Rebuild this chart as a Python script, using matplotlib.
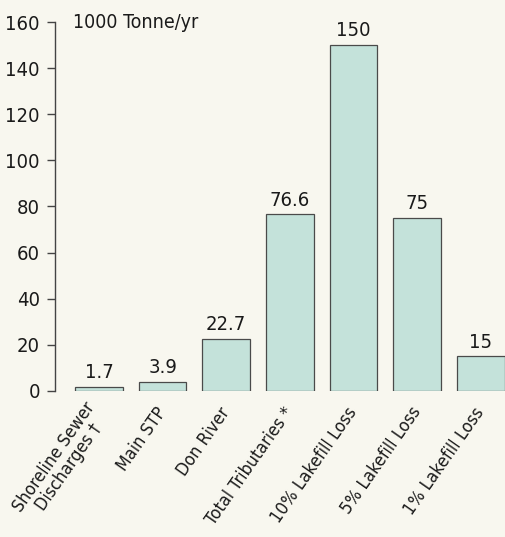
import matplotlib.pyplot as plt

categories = ["Shoreline Sewer\nDischarges \u2020", "Main STP", "Don River",
              "Total Tributaries *", "10% Lakefill Loss", "5% Lakefill Loss",
              "1% Lakefill Loss"]
values = [1.7, 3.9, 22.7, 76.6, 150, 75, 15]
value_labels = ["1.7", "3.9", "22.7", "76.6", "150", "75", "15"]
yticks = [0, 20, 40, 60, 80, 100, 120, 140, 160]

plt.rcParams["font.family"] = ["DejaVu Sans"]
plt.rcParams["font.stretch"] = "condensed"

bg = "#f8f7ef"
fig = plt.figure(figsize=(5.05, 5.37), dpi=100, facecolor=bg)
ax = fig.add_axes([0.109, 0.272, 0.891, 0.687], facecolor=bg)

x = list(range(len(values)))
ax.bar(x, values, width=0.75, color="#c4e2da", edgecolor="#4a4a4a", linewidth=0.9)

for xi, v, lab in zip(x, values, value_labels):
    ax.text(xi, v + 2, lab, ha="center", va="bottom", fontsize=14.5, color="#1a1a1a")

ax.set_xlim(-0.69, 6.38)
ax.set_ylim(0, 160)
ax.set_yticks(yticks)
ax.set_yticklabels([str(t) for t in yticks], fontsize=14.5, color="#1a1a1a")
ax.tick_params(axis="y", length=6, width=1, color="#444444", pad=5)

ax.set_xticks(x)
ax.set_xticklabels(categories, rotation=55, ha="right", va="center",
                   rotation_mode="anchor", fontsize=12.8, color="#1a1a1a",
                   linespacing=1.0, multialignment="center")
ax.tick_params(axis="x", length=0, pad=13)

for side in ["top", "right", "bottom"]:
    ax.spines[side].set_visible(False)
ax.spines["left"].set_color("#444444")
ax.spines["left"].set_linewidth(1)

ax.text(0.04, 160, "1000 Tonne/yr", transform=ax.get_yaxis_transform(),
        ha="left", va="center", fontsize=14, color="#1a1a1a")

fig.savefig("out.png", dpi=100, facecolor=bg)
